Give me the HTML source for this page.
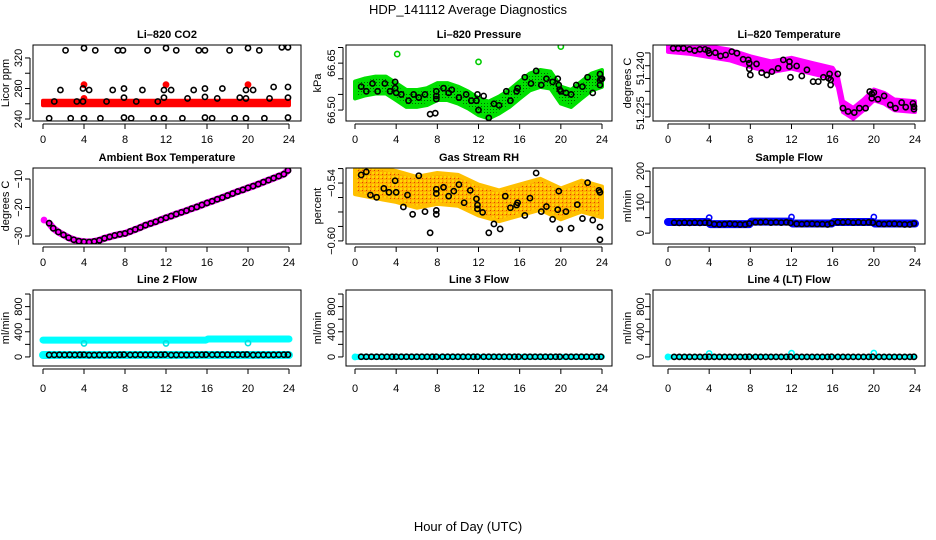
<!DOCTYPE html>
<html><head><meta charset="utf-8"><title>HDP_141112 Average Diagnostics</title>
<style>
html,body{margin:0;padding:0;background:#fff;}
svg{display:block;font-family:"Liberation Sans",Arial,sans-serif;}
.tk{font-size:11px;fill:#000;}
.tt{font-size:11px;font-weight:bold;fill:#000;}
</style></head>
<body>
<svg id="chart" width="936" height="540" viewBox="0 0 936 540" xmlns="http://www.w3.org/2000/svg">
<defs>
<pattern id="rhpat" width="4" height="4" patternUnits="userSpaceOnUse">
<rect width="4" height="4" fill="#ffb000"/><rect x="0" y="0" width="2" height="2" fill="#ffd800"/><rect x="2" y="2" width="1" height="1" fill="#e04000"/>
</pattern>
<pattern id="grpat" width="3" height="3" patternUnits="userSpaceOnUse">
<rect width="3" height="3" fill="#00e000"/><rect x="1" y="1" width="1" height="1" fill="#006000"/>
</pattern>
</defs>
<text x="468" y="14" text-anchor="middle" font-size="13">HDP_141112  Average Diagnostics</text>
<text x="468" y="531" text-anchor="middle" font-size="13">Hour of Day (UTC)</text>
</svg>
<script>
// ---------- data ----------
const xTicks = [0,4,8,12,16,20,24];
const T48 = [0.6,1.1,1.6,2.1,2.6,3.1,3.6,4.0,4.5,5.0,5.5,6.0,6.5,7.0,7.5,7.9,8.5,9.0,9.5,10.0,10.5,11.0,11.5,11.9,12.5,13.0,13.5,14.0,14.5,15.0,15.5,15.9,16.5,17.0,17.5,18.0,18.5,19.0,19.5,19.9,20.5,21.0,21.5,22.0,22.5,23.0,23.5,23.9];

// Li-820 CO2
const co2BandT = [0,24];
const co2BandLo = [258,258];
const co2BandHi = [264,264];
const co2RedT = [4,12,20,4];
const co2RedV = [285,285,285,267];
const co2T = [2.2,4,5.1,7.3,7.8,10.2,12,13,15.2,15.8,18.2,20,21.1,23.3,23.9,
  1.7,4.5,6.8,9.7,11.8,12.5,14.7,19.8,20.5,3.9,7.9,15.8,17.5,22.5,23.9,
  7.9,11.8,14.1,15.8,17,19.2,19.8,22.1,23.9,1.1,3.3,3.9,6.2,9.1,11.2,
  0.6,2.7,4,5.6,7.9,8.6,10.8,11.8,13.6,15.8,16.5,18.7,19.8,21.6,23.9];
const co2V = [330,333,330,330,330,330,333,330,330,330,330,333,330,334,334,
  278,278,278,278,278,278,278,278,278,280,280,280,280,282,282,
  268,268,267,269,267,268,267,267,268,263,263,263,263,263,263,
  241,241,241,241,242,241,241,241,241,242,241,241,241,241,242];

// Li-820 Pressure
const prBandT = [0,1,2,3,4,5,6,7,8,9,10,11,12,13,14,15,16,17,18,19,20,21,22,23,24];
const prBandC = [66.564,66.574,66.580,66.580,66.559,66.537,66.537,66.543,66.559,66.559,66.548,66.532,66.511,66.500,66.516,66.537,66.564,66.590,66.601,66.596,66.548,66.537,66.564,66.590,66.601];
const prBandHalf = 0.027;
const prGreenT = [4.1,12,20];
const prGreenV = [66.679,66.654,66.703];
const prT = [0.6,1.1,1.7,2.2,2.9,3.4,3.9,3.9,4.0,4.5,5.2,5.7,6.2,6.8,7.3,7.8,7.9,7.9,7.9,8.6,9.1,9.4,10.1,10.8,11.3,11.8,11.9,12,12.5,13,13.5,14,14.7,15.1,15.7,15.8,16.5,17.1,17.6,18.1,18.6,19.2,19.7,19.8,19.9,20,20.5,21,21.5,22.1,22.6,23.1,23.8,23.8,23.9,24,23.8];
const prV = [66.575,66.56,66.585,66.56,66.585,66.56,66.59,66.57,66.555,66.55,66.53,66.55,66.54,66.55,66.487,66.49,66.535,66.545,66.56,66.57,66.555,66.565,66.54,66.55,66.53,66.53,66.55,66.50,66.545,66.475,66.52,66.515,66.56,66.53,66.56,66.57,66.605,66.585,66.625,66.58,66.6,66.59,66.6,66.58,66.565,66.56,66.555,66.55,66.58,66.575,66.605,66.555,66.58,66.595,66.6,66.6,66.615];

// Li-820 Temperature
const tmBandT = [0,2,4,6,8,10,12,14,16,16.5,17,18,19,20,21,22,24];
const tmBandC = [51.2475,51.2468,51.2455,51.2442,51.2416,51.2396,51.2410,51.2390,51.2371,51.2338,51.2240,51.2214,51.2247,51.2286,51.2273,51.2247,51.2240];
const tmBandHalf = 0.0021;
const tmT = [0.5,1,1.5,2.1,2.6,3.1,3.6,3.9,4,4.6,5.1,5.6,6.2,6.7,7.3,7.8,7.9,7.9,8,8.6,9.1,9.6,10.1,10.7,11.2,11.8,11.8,11.9,12.5,13,13.5,14.1,14.6,15.1,15.6,15.7,15.8,15.8,16.5,17,17.5,18.1,18.6,19.2,19.6,19.8,19.8,20,20.4,21,21.6,22.1,22.7,23.1,23.8,23.9,23.9];
const tmV = [51.2468,51.2468,51.2468,51.2464,51.2459,51.2464,51.2464,51.2459,51.2449,51.2451,51.2438,51.2442,51.2455,51.2449,51.2425,51.2423,51.2410,51.2388,51.2364,51.2407,51.2373,51.2364,51.2377,51.2390,51.2423,51.2416,51.2397,51.2355,51.2399,51.2360,51.2384,51.2338,51.2338,51.2355,51.2351,51.2368,51.2345,51.2325,51.2368,51.2234,51.2221,51.2217,51.2234,51.2234,51.2299,51.2290,51.2273,51.2295,51.2269,51.2282,51.2247,51.2234,51.2256,51.2238,51.2253,51.2240,51.2230];

// Ambient Box Temperature
const abT = [0.6,1,1.5,2,2.5,3,3.5,4,4.5,5,5.5,6,6.5,7,7.5,8,8.5,9,9.5,10,10.5,11,11.5,12,12.5,13,13.5,14,14.5,15,15.5,16,16.5,17,17.5,18,18.5,19,19.5,20,20.5,21,21.5,22,22.5,23,23.5,23.9];
const abV = [-25.5,-27.3,-28.6,-29.6,-30.6,-31.3,-31.8,-32,-32.1,-31.9,-31.5,-30.8,-30.3,-29.8,-29.4,-29.1,-28.4,-27.7,-27,-26.2,-25.6,-25,-24.3,-23.6,-23,-22.3,-21.7,-21.1,-20.4,-19.8,-19.1,-18.4,-17.8,-17.1,-16.5,-15.8,-15.1,-14.4,-13.8,-13.1,-12.5,-11.8,-11.1,-10.4,-9.7,-9,-8.3,-7];
const abMagT = [0.1];
const abMagV = [-24.4];

// Gas Stream RH
const rhBandT = [0,2,4,6,8,10,12,14,16,18,20,22,24];
const rhBandC = [-0.5355,-0.5397,-0.5436,-0.5496,-0.5456,-0.5475,-0.5576,-0.5636,-0.5576,-0.5516,-0.5616,-0.5536,-0.5596];
const rhBandHalf = 0.016;
const rhT = [0.6,1.1,1.5,2.1,2.8,3.3,3.9,4,4.7,5.1,5.6,6.2,6.8,7.3,7.9,7.9,7.9,7.9,8.6,9.1,9.6,10.1,10.6,11.2,11.8,11.9,11.9,12.4,13,13.5,14.1,14.6,15.1,15.7,15.8,16.5,17,17.6,18.1,18.6,19.2,19.7,19.8,19.9,20.5,21,21.6,22.1,22.6,23.1,23.7,23.8,23.8,23.8];
const rhV = [-0.5316,-0.5284,-0.5524,-0.5548,-0.5456,-0.5496,-0.5376,-0.5496,-0.5648,-0.5524,-0.5724,-0.5324,-0.5696,-0.5916,-0.5724,-0.5684,-0.5508,-0.5464,-0.5444,-0.5536,-0.5484,-0.5416,-0.5604,-0.5476,-0.5564,-0.5628,-0.5668,-0.5704,-0.5916,-0.5824,-0.5876,-0.5536,-0.5656,-0.5628,-0.5604,-0.5736,-0.5556,-0.5296,-0.5696,-0.5644,-0.5776,-0.5676,-0.5484,-0.5876,-0.5696,-0.5868,-0.5624,-0.5768,-0.5396,-0.5784,-0.5476,-0.5496,-0.5856,-0.5988];

// Sample Flow
const sfBandT = [0,3.9,4.1,7.9,8.1,11.9,12.1,15.9,16.1,19.9,20.1,24];
const sfBandV = [36,36,29,29,37,37,31,31,36,36,31,31];
const sfBlueT = [4,12,20];
const sfBlueV = [50,52,52];
const sfV = [34,33,34,33,34,33,34,33,29,28,29,30,29,28,28,31,35,35,36,34,35,34,35,33,30,29,30,30,29,29,28,32,35,35,36,34,35,34,35,34,30,29,30,30,29,28,28,31];

// Line 2 Flow
const l2TopT = [0,15.9,16.1,24];
const l2TopV = [268,268,285,285];
const l2DipT = [4,12,20];
const l2DipV = [215,215,220];
const l2LowT = [0,24];
const l2LowV = [30,30];
const l2V = [32,33,34,33,34,33,34,35,30,31,32,31,32,33,34,36,33,34,35,34,35,34,35,37,31,32,33,32,33,34,35,36,35,36,37,36,37,36,37,38,32,33,34,33,34,35,36,36];

// Line 3 Flow
const l3CyT = [0,24];
const l3CyV = [2,2];
const l3V = [3,3,3,3,3,3,3,3,3,3,3,3,3,3,3,3,3,3,3,3,3,3,3,3,3,3,3,3,3,3,3,3,3,3,3,3,3,3,3,3,3,3,3,3,3,3,3,3];

// Line 4 (LT) Flow
const l4CyT = [0,24];
const l4CyV = [1,1];
const l4SpikeT = [0,4,12,20];
const l4SpikeV = [0,55,60,62];
const l4V = [1,1,1,1,1,1,1,2,1,1,1,1,1,1,1,2,1,1,1,1,1,1,1,2,1,1,1,1,1,1,1,2,1,1,1,1,1,1,1,2,1,1,1,1,1,1,1,2];

// ---------- drawing ----------
const NS = "http://www.w3.org/2000/svg";
const svg = document.getElementById('chart');
function mk(tag, attrs, parent){
  const e = document.createElementNS(NS, tag);
  for (const k in attrs) e.setAttribute(k, attrs[k]);
  (parent||svg).appendChild(e);
  return e;
}
const cols = [
  {l:33,r:301,x0:43,x24:289,lab:22,ttl:9},
  {l:346,r:612,x0:355,x24:602,lab:335,ttl:321},
  {l:653,r:925,x0:668,x24:915,lab:644,ttl:631}
];
const rows = [{t:45,b:121,lab:139},{t:168,b:244,lab:262},{t:290,b:366,lab:388}];

function panel(name, title, ci, ri, yTop, yBot, yTicks, yLabs, yTitle){
  const c = cols[ci], r = rows[ri];
  const g = mk('g', {});
  
  
  const sx = t => c.x0 + (t/24)*(c.x24 - c.x0);
  const sy = v => r.b + (v - yBot)/(yTop - yBot)*(r.t - r.b);
  const cid = 'clip-' + name;
  const cp = mk('clipPath', {id: cid}, g);
  mk('rect', {x:c.l, y:r.t, width:c.r-c.l, height:r.b-r.t}, cp);
  const plot = mk('g', {'clip-path':'url(#'+cid+')'}, g);
  
  
  const frame = mk('rect', {x:c.l, y:r.t, width:c.r-c.l, height:r.b-r.t, fill:'none', stroke:'#000', 'stroke-width':1}, g);
  
  
  const tt = mk('text', {x:(c.l+c.r)/2, y:r.t-7, 'text-anchor':'middle', class:'tt'}, g);
  
  
  tt.textContent = title;
  const xa = mk('g', {}, g);
  
  
  mk('line', {x1:sx(0), x2:sx(24), y1:r.b+3, y2:r.b+3, stroke:'#000'}, xa);
  xTicks.forEach(t => {
    mk('line', {x1:sx(t), x2:sx(t), y1:r.b+3, y2:r.b+8, stroke:'#000'}, xa);
    const lb = mk('text', {x:sx(t), y:r.lab+4, 'text-anchor':'middle', class:'tk'}, xa);
    
    
    lb.textContent = t;
  });
  const ya = mk('g', {}, g);
  
  
  mk('line', {x1:c.l-3, x2:c.l-3, y1:sy(yTicks[0]), y2:sy(yTicks[yTicks.length-1]), stroke:'#000'}, ya);
  yTicks.forEach(v => mk('line', {x1:c.l-3, x2:c.l-8, y1:sy(v), y2:sy(v), stroke:'#000'}, ya));
  yLabs.forEach(p => {
    const y = sy(p[0]);
    const lb = mk('text', {x:c.lab, y:y, 'text-anchor':'middle', class:'tk', transform:'rotate(-90 '+c.lab+' '+y+')'}, ya);
    
    
    lb.textContent = p[1];
  });
  const ym = (r.t + r.b)/2;
  const yt = mk('text', {x:c.ttl, y:ym, 'text-anchor':'middle', class:'tk', transform:'rotate(-90 '+c.ttl+' '+ym+')'}, g);
  
  
  yt.textContent = yTitle;
  return {plot, sx, sy};
}
function band(P, ts, lo, hi, color, nm, stroke){
  let d = '';
  ts.forEach((t,i) => d += (i?'L':'M') + P.sx(t) + ' ' + P.sy(hi[i]) + ' ');
  for (let i = ts.length-1; i >= 0; i--) d += 'L' + P.sx(ts[i]) + ' ' + P.sy(lo[i]) + ' ';
  const e = mk('path', {d: d + 'Z', fill: color, stroke: stroke || color, 'stroke-width': 4, 'stroke-linejoin':'round'}, P.plot);
  
  
}
function line(P, ts, vs, color, w, nm){
  const pts = ts.map((t,i) => P.sx(t) + ',' + P.sy(vs[i])).join(' ');
  const e = mk('polyline', {points: pts, fill:'none', stroke: color, 'stroke-width': w, 'stroke-linecap':'round', 'stroke-linejoin':'round'}, P.plot);
  
  
}
function pts(P, ts, vs, color, nm, filled){
  ts.forEach((t,i) => {
    const e = mk('circle', {cx:P.sx(t), cy:P.sy(vs[i]), r:2.6, fill: filled ? color : 'none', stroke: color, 'stroke-width': 1.6}, P.plot);
    
    
  });
}
const lo = (c,h) => c.map(v => v - h);
const hi = (c,h) => c.map(v => v + h);

let P = panel('co2-panel', 'Li\u2013820 CO2', 0, 0, 337, 237.4, [240,260,280,300,320], [[240,'240'],[280,'280'],[320,'320']], 'Licor ppm');
band(P, co2BandT, co2BandLo, co2BandHi, '#ff0000', 'co2-red-band');
pts(P, co2RedT, co2RedV, '#ff0000', 'co2-red-point', true);
pts(P, co2T, co2V, '#000', 'co2-point', false);

P = panel('pressure-panel', 'Li\u2013820 Pressure', 1, 0, 66.708, 66.465, [66.50,66.55,66.60,66.65,66.70], [[66.50,'66.50'],[66.65,'66.65']], 'kPa');
band(P, prBandT, lo(prBandC,prBandHalf), hi(prBandC,prBandHalf), 'url(#grpat)', 'pressure-green-band', '#00e000');
pts(P, prGreenT, prGreenV, '#00cc00', 'pressure-green-point', false);
pts(P, prT, prV, '#000', 'pressure-point', false);

P = panel('temperature-panel', 'Li\u2013820 Temperature', 2, 0, 51.2481, 51.2184, [51.220,51.225,51.230,51.235,51.240,51.245], [[51.2215,'51.225'],[51.2390,'51.240']], 'degrees C');
band(P, tmBandT, lo(tmBandC,tmBandHalf), hi(tmBandC,tmBandHalf), '#ff00ff', 'temperature-magenta-band');
pts(P, tmT, tmV, '#000', 'temperature-point', false);

P = panel('ambient-panel', 'Ambient Box Temperature', 0, 1, -6.14, -32.8, [-30,-20,-10], [[-30,'\u221230'],[-20,'\u221220'],[-10,'\u221210']], 'degrees C');
line(P, abT, abV, '#ff00ff', 7, 'ambient-magenta-line');
pts(P, abMagT, abMagV, '#ff00ff', 'ambient-magenta-point', true);
pts(P, abT, abV, '#000', 'ambient-point', false);

P = panel('rh-panel', 'Gas Stream RH', 1, 1, -0.5244, -0.6032, [-0.600,-0.585,-0.570,-0.555,-0.540,-0.525], [[-0.600,'\u22120.60'],[-0.54,'\u22120.54']], 'percent');
band(P, rhBandT, lo(rhBandC,rhBandHalf), hi(rhBandC,rhBandHalf), 'url(#rhpat)', 'rh-orange-band', '#ffc000');
pts(P, rhT, rhV, '#000', 'rh-point', false);

P = panel('sample-flow-panel', 'Sample Flow', 2, 1, 210, -35, [0,50,100,150,200], [[0,'0'],[100,'100'],[200,'200']], 'ml/min');
line(P, sfBandT, sfBandV, '#0000ff', 8, 'sample-flow-blue-band');
pts(P, sfBlueT, sfBlueV, '#0000ff', 'sample-flow-blue-point', false);
pts(P, T48, sfV, '#000', 'sample-flow-point', false);

P = panel('line2-panel', 'Line 2 Flow', 0, 2, 1064, -144, [0,200,400,600,800,1000], [[0,'0'],[400,'400'],[800,'800']], 'ml/min');
line(P, l2TopT, l2TopV, '#00ffff', 7, 'line2-cyan-top');
pts(P, l2DipT, l2DipV, '#00e0e0', 'line2-cyan-dip', false);
line(P, l2LowT, l2LowV, '#00ffff', 8, 'line2-cyan-low');
pts(P, T48, l2V, '#000', 'line2-point', false);

P = panel('line3-panel', 'Line 3 Flow', 1, 2, 1064, -144, [0,200,400,600,800,1000], [[0,'0'],[400,'400'],[800,'800']], 'ml/min');
line(P, l3CyT, l3CyV, '#00ffff', 6, 'line3-cyan-line');
pts(P, [0], [0], '#00ffff', 'line3-cyan-point', true);
pts(P, T48, l3V, '#000', 'line3-point', false);

P = panel('line4-panel', 'Line 4 (LT) Flow', 2, 2, 1064, -144, [0,200,400,600,800,1000], [[0,'0'],[400,'400'],[800,'800']], 'ml/min');
line(P, l4CyT, l4CyV, '#00ffff', 5, 'line4-cyan-line');
pts(P, l4SpikeT, l4SpikeV, '#00ffff', 'line4-cyan-point', false);
pts(P, T48, l4V, '#000', 'line4-point', false);
</script>
</body></html>
